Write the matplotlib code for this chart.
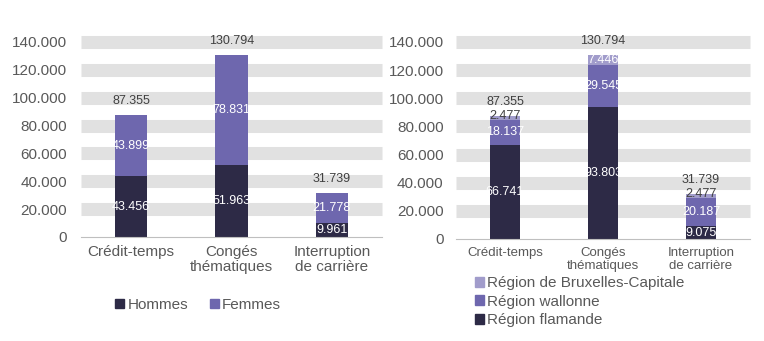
import matplotlib
matplotlib.use("Agg")
import matplotlib.pyplot as plt
from matplotlib.patches import Patch
import numpy as np

plt.rcParams['font.family'] = ['Liberation Sans', 'DejaVu Sans']

categories_left = ["Crédit-temps", "Congés\nthématiques", "Interruption\nde carrière"]
hommes = [43456, 51963, 9961]
femmes = [43899, 78831, 21778]
totals = [87355, 130794, 31739]

categories_right = ["Crédit-temps", "Congés\nthématiques", "Interruption\nde carrière"]
flamande = [66741, 93803, 9075]
wallonne = [18137, 29545, 20187]
bruxelles = [2477, 7446, 2477]

yticks = [0, 20000, 40000, 60000, 80000, 100000, 120000, 140000]
ytick_labels = ["0", "20.000", "40.000", "60.000", "80.000", "100.000", "120.000", "140.000"]

DARK = "#2D2A46"
MID = "#6E67AE"
LIGHT = "#A19CCB"
GRID = "#E1E1E1"
TICK = "#595959"
LAB = "#404040"

def fmt(v):
    return f"{v:,}".replace(",", ".")

W, H = 764, 341
fig = plt.figure(figsize=(W/100, H/100), dpi=100)

def setup(ax, cats, catsize, pad):
    ax.set_ylim(0, 140000)
    ax.set_xlim(-0.5, 2.5)
    for t in yticks[1:]:
        ax.axhline(t, color=GRID, lw=9.4, zorder=0, clip_on=False, solid_capstyle="butt")
    for s in ["top", "right", "left"]:
        ax.spines[s].set_visible(False)
    ax.spines["bottom"].set_color("#BFBFBF")
    ax.spines["bottom"].set_zorder(3)
    ax.set_yticks(yticks)
    ax.set_yticklabels(ytick_labels, fontsize=11, color=TICK)
    ax.tick_params(axis="y", length=0, pad=pad)
    ax.set_xticks(range(3))
    ax.set_xticklabels(cats, fontsize=catsize, color=TICK, linespacing=1.05)
    ax.tick_params(axis="x", length=0, pad=6)
    ax.set_facecolor("none")

LFS = 9

# Left chart
ax1 = fig.add_axes([81/W, (H-237)/H, 301/W, 195/H])
setup(ax1, categories_left, 11, 10)
x = np.arange(3)
bw = 0.32
ax1.bar(x, hommes, bw, color=DARK, zorder=2)
ax1.bar(x, femmes, bw, bottom=hommes, color=MID, zorder=2)
for i in range(3):
    ax1.text(x[i], hommes[i]/2, fmt(hommes[i]), ha="center", va="center", color="white", fontsize=LFS, zorder=4)
    ax1.text(x[i], hommes[i] + femmes[i]/2, fmt(femmes[i]), ha="center", va="center", color="white", fontsize=LFS, zorder=4)
    ax1.annotate(fmt(totals[i]), (x[i], totals[i]), xytext=(0, 10), textcoords="offset points",
                 ha="center", va="center", color=LAB, fontsize=LFS, zorder=4)

fig.legend(handles=[Patch(color=DARK, label="Hommes"), Patch(color=MID, label="Femmes")],
           loc="center", bbox_to_anchor=(198/W, 1-305/H), ncol=2, frameon=False,
           fontsize=11, handlelength=0.6, handleheight=0.6, handletextpad=0.2,
           columnspacing=1.4, labelcolor=TICK)

# Right chart
ax2 = fig.add_axes([456/W, (H-239)/H, 294/W, 197/H])
setup(ax2, categories_right, 9.5, 9)
bw2 = 0.30
b2 = np.array(flamande) + np.array(wallonne)
ax2.bar(x, flamande, bw2, color=DARK, zorder=2)
ax2.bar(x, wallonne, bw2, bottom=flamande, color=MID, zorder=2)
ax2.bar(x, bruxelles, bw2, bottom=b2, color=LIGHT, zorder=2)
for i in range(3):
    ax2.text(x[i], flamande[i]/2, fmt(flamande[i]), ha="center", va="center", color="white", fontsize=LFS, zorder=4)
    ax2.text(x[i], flamande[i] + wallonne[i]/2, fmt(wallonne[i]), ha="center", va="center", color="white", fontsize=LFS, zorder=4)
    small = bruxelles[i] < 5000
    ax2.text(x[i], b2[i] + bruxelles[i]/2 + (1500 if small else 0), fmt(bruxelles[i]), ha="center", va="center",
             color=LAB if small else "white", fontsize=LFS, zorder=4)
    ax2.annotate(fmt(totals[i]), (x[i], totals[i]), xytext=(0, 10), textcoords="offset points",
                 ha="center", va="center", color=LAB, fontsize=LFS, zorder=4)

fig.legend(handles=[Patch(color=LIGHT, label="Région de Bruxelles-Capitale"),
                    Patch(color=MID, label="Région wallonne"),
                    Patch(color=DARK, label="Région flamande")],
           loc="upper left", bbox_to_anchor=(472/W, 1-273/H), ncol=1, frameon=False,
           fontsize=11, handlelength=0.6, handleheight=0.6, handletextpad=0.2,
           labelspacing=0.3, labelcolor=TICK, borderaxespad=0, borderpad=0.2)

fig.savefig("out.png", dpi=100)
